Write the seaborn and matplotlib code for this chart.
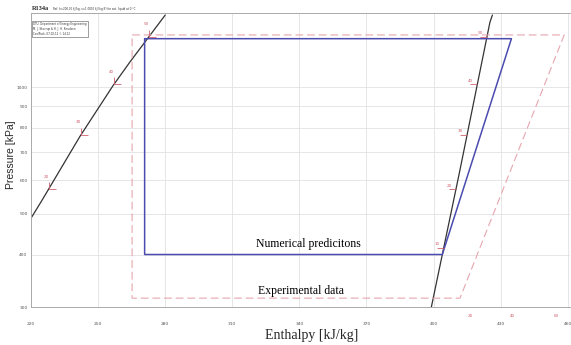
import matplotlib
matplotlib.use("Agg")
import matplotlib.pyplot as plt
import seaborn as sns
from matplotlib.path import Path
from matplotlib.ticker import FixedLocator, NullLocator
import matplotlib.transforms as mtransforms

# saturation lines (enthalpy kJ/kg, pressure kPa)
h_liq = [219.6, 224.8, 241.9, 256.7, 264.3, 280.0]
p_liq = [484, 537, 764, 1009, 1149, 1484]
h_vap = [399.0, 403.9, 411.7, 425.2, 426.3]
p_vap = [300, 400, 632, 1428, 1484]

# cycles
h_num = [270.8, 434.8, 403.9, 270.8, 270.8]
p_num = [1304, 1304, 400, 400, 1304]
h_exp = [265.2, 458.4, 411.8, 265.2, 265.2]
p_exp = [1331, 1331, 315, 315, 1331]

# isotherm marks on the saturation lines
t_liq = ["20", "30", "40", "50"]
h_liq_mark = [227.9, 242.3, 257.2, 272.7]
p_liq_mark = [572, 770, 1017, 1318]
t_vap = ["10", "20", "30", "40", "50"]
h_vap_mark = [404.5, 410.0, 415.0, 419.6, 423.8]
p_vap_mark = [415, 572, 770, 1017, 1318]
t_bottom = ["20", "40", "60"]
h_bottom = [416.6, 435.4, 454.7]

x_ticks = [220, 250, 280, 310, 340, 370, 400, 430, 460]
y_ticks = [300, 400, 500, 600, 700, 800, 900, 1000]

sns.set_style("white")
plt.rcParams['font.family'] = ['DejaVu Sans']

fig = plt.figure(figsize=(5.71, 3.45), dpi=100)
ax = fig.add_axes([0.0543, 0.110, 0.944, 0.852])

red = '#d0606e'
sns.lineplot(x=h_liq, y=p_liq, ax=ax, sort=False, estimator=None, color='#333333', linewidth=0.9)
sns.lineplot(x=h_vap, y=p_vap, ax=ax, sort=False, estimator=None, color='#333333', linewidth=0.9)
sns.lineplot(x=h_exp, y=p_exp, ax=ax, sort=False, estimator=None, color='#e6a6ae',
             linewidth=0.8, dashes=False, linestyle=(0, (7, 3.5)))
sns.lineplot(x=h_num, y=p_num, ax=ax, sort=False, estimator=None, color='#4b4bb0', linewidth=1.1)

# isotherm ticks
l_mark = Path([(0, 1), (0, 0), (1, 0)], [Path.MOVETO, Path.LINETO, Path.LINETO])
r_mark = Path([(-1, 0), (0, 0)], [Path.MOVETO, Path.LINETO])
ax.plot(h_liq_mark, p_liq_mark, linestyle='none', marker=l_mark, markersize=10,
        markeredgecolor=red, markerfacecolor='none', markeredgewidth=0.6)
ax.plot(h_vap_mark, p_vap_mark, linestyle='none', marker=r_mark, markersize=10,
        markeredgecolor=red, markerfacecolor='none', markeredgewidth=0.6)
for t, h, p in zip(t_liq, h_liq_mark, p_liq_mark):
    ax.annotate(t, (h, p), xytext=(-2, 9), textcoords='offset points',
                fontsize=3, color=red, ha='center', va='center')
for t, h, p in zip(t_vap, h_vap_mark, p_vap_mark):
    ax.annotate(t, (h, p), xytext=(-5, 2.5), textcoords='offset points',
                fontsize=3, color=red, ha='center', va='center')
trans = mtransforms.blended_transform_factory(ax.transData, ax.transAxes)
for t, h in zip(t_bottom, h_bottom):
    ax.text(h, -0.03, t, transform=trans, fontsize=3, color=red,
            ha='center', va='center', clip_on=False)

# annotations
ax.text(344, 411, 'Numerical predicitons', family='Liberation Serif', fontsize=8.5,
        ha='center', va='bottom', color='black')
ax.text(340.5, 317, 'Experimental data', family='Liberation Serif', fontsize=8.5,
        ha='center', va='bottom', color='black')

ax.set_yscale('log')
ax.set_xlim(220, 461)
ax.set_ylim(300, 1500)
ax.xaxis.set_major_locator(FixedLocator(x_ticks))
ax.yaxis.set_major_locator(FixedLocator(y_ticks))
ax.yaxis.set_minor_locator(NullLocator())
ax.set_xticklabels([str(v) for v in x_ticks])
ax.set_yticklabels([str(v) for v in y_ticks])
ax.tick_params(axis='x', labelsize=3.2, labelcolor='#555555', length=0, pad=11)
ax.tick_params(axis='y', labelsize=3.2, labelcolor='#555555', length=0, pad=2.5)
ax.grid(True, color='#e2e2e2', linewidth=0.6)

for side in ['left', 'bottom', 'top', 'right']:
    ax.spines[side].set_color('#aaaaaa')
    ax.spines[side].set_linewidth(0.7)
ax.spines['right'].set_visible(False)

ax.set_xlabel('Enthalpy [kJ/kg]', family='Liberation Serif', fontsize=10)
ax.xaxis.set_label_coords(0.52, -0.075)
ax.set_ylabel('Pressure [kPa]', family='Liberation Sans', fontsize=7.5)
ax.yaxis.set_label_coords(-0.028, 0.52)

# header and info box
fig.text(0.056, 0.975, 'R134a', family='Liberation Serif', fontsize=4.5, weight='bold',
         va='center')
fig.text(0.092, 0.975, 'Ref: h=200.00 kJ/kg, s=1.0000 kJ/(kg K) for sat. liquid at 0 \u00b0C',
         fontsize=2, va='center', color='#333333')
fig.text(0.058, 0.935, 'DTU, Department of Energy Engineering\n'
         'M. J. Skovrup & H. J. H. Knudsen\n'
         'CoolPack, 07-02-12 \u00a9 14:12',
         fontsize=1.9, va='top', ha='left', color='#333333', linespacing=1.3,
         bbox=dict(boxstyle='square,pad=0.4', facecolor='white', edgecolor='#555555',
                   linewidth=0.4))

fig.savefig('out.png', dpi=100)
